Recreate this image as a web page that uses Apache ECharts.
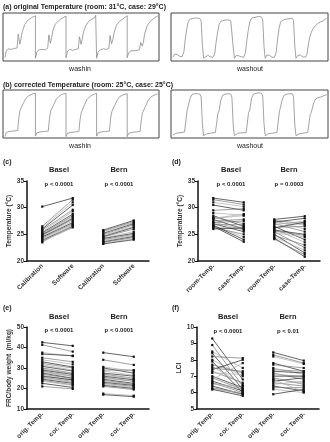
<!DOCTYPE html>
<html>
<head>
<meta charset="utf-8">
<script src="https://cdn.jsdelivr.net/npm/echarts@6/dist/echarts.min.js"></script>
<style>
  html, body { margin: 0; padding: 0; background: #fff; }
  #chart { width: 330px; height: 442px; }
</style>
</head>
<body>
<div id="chart"></div>
<script>
// ---- (a)/(b) traces: one value list per cycle, read at fixed phase positions ----
const washinPhasesA = [0, 0.05, 0.12, 0.22, 0.32, 0.4, 0.44, 0.49, 0.53, 0.57, 0.65, 0.75, 0.85, 0.93, 0.97, 1.0]
const washinOrig = [
  [7, 22, 26, 25, 27, 28, 58, 36, 48, 63, 78, 87, 92, 95, 99, 97],
  [6, 20, 24, 25, 24, 27, 56, 38, 50, 65, 79, 86, 91, 94, 97, 96],
  [7, 21, 25, 23, 25, 26, 52, 36, 47, 62, 76, 86, 90, 93, 98, 97],
  [6, 19, 24, 26, 25, 27, 55, 37, 46, 60, 77, 85, 90, 94, 96, 97],
  [7, 18, 22, 22, 23, 24, 40, 32, 40, 58, 75, 85, 90, 94, 96, 97]
]
const washoutPhasesA = [0, 0.06, 0.14, 0.22, 0.3, 0.36, 0.4, 0.45, 0.5, 0.56, 0.62, 0.7, 0.8, 0.88, 0.92, 0.96, 1.0]
const washoutOrig = [
  [8, 15, 14, 10, 9, 20, 45, 68, 84, 90, 91, 92, 92, 91, 86, 35, 6],
  [6, 10, 12, 9, 8, 15, 38, 60, 78, 85, 87, 88, 88, 87, 83, 30, 6],
  [7, 12, 11, 9, 8, 18, 42, 66, 84, 92, 95, 94, 96, 94, 88, 32, 6],
  [7, 13, 12, 8, 8, 20, 45, 70, 84, 88, 89, 90, 91, 92, 87, 34, 6],
  [7, 12, 13, 9, 8, 15, 35, 52, 62, 70, 75, 80, 84, 86, 88, 90, 92]
]
const washinPhasesB = [0, 0.05, 0.15, 0.3, 0.42, 0.46, 0.5, 0.55, 0.6, 0.68, 0.76, 0.85, 0.93, 1.0]
const washinCorr = [
  [3, 12, 14, 15, 16, 45, 60, 62, 74, 84, 90, 93, 95, 96],
  [4, 11, 13, 14, 15, 42, 58, 60, 72, 83, 89, 93, 95, 96],
  [3, 10, 12, 13, 14, 40, 55, 58, 70, 82, 88, 92, 94, 96],
  [4, 11, 13, 14, 15, 43, 57, 60, 71, 82, 89, 92, 94, 95],
  [3, 10, 12, 13, 14, 38, 54, 57, 68, 80, 87, 91, 93, 95]
]
const washoutPhasesB = [0, 0.1, 0.2, 0.3, 0.38, 0.42, 0.46, 0.5, 0.56, 0.62, 0.7, 0.8, 0.88, 0.92, 0.96, 1.0]
const washoutCorr = [
  [6, 10, 11, 12, 13, 35, 58, 62, 85, 93, 95, 95, 94, 88, 30, 5],
  [5, 9, 10, 11, 12, 30, 52, 58, 82, 92, 94, 95, 94, 87, 28, 5],
  [6, 10, 11, 11, 12, 32, 55, 60, 86, 94, 96, 97, 96, 90, 32, 5],
  [5, 9, 10, 11, 12, 33, 56, 60, 84, 92, 94, 95, 95, 89, 30, 5],
  [6, 9, 10, 11, 12, 30, 50, 55, 72, 82, 86, 88, 90, 91, 92, 93]
]

// ---- (c) calibration vs software ----
const catsC = ['Calibration', 'Software', 'Calibration', 'Software']
const baselCal = [30.2, 26.5, 26.2, 26.0, 25.8, 25.5, 25.3, 25.1, 25.0, 24.9, 24.8, 24.6, 24.5, 24.3, 24.1, 23.9, 23.7, 23.5]
const baselSoft = [31.8, 31.5, 31.0, 30.5, 29.6, 29.3, 28.8, 28.5, 28.3, 28.0, 27.8, 27.5, 27.2, 27.0, 26.8, 26.5, 26.3, 26.7]
const bernCal = [25.8, 25.6, 25.5, 25.2, 25.0, 24.8, 24.6, 24.5, 24.3, 24.2, 24.0, 23.8, 23.6, 23.5, 23.3, 23.2]
const bernSoft = [27.6, 27.4, 27.2, 27.0, 26.8, 26.5, 26.3, 26.0, 25.5, 25.2, 25.0, 24.8, 24.6, 24.4, 24.2, 24.0]

// ---- (d) room vs case temperature ----
const catsD = ['room-Temp.', 'case-Temp.', 'room-Temp.', 'case-Temp.']
const baselRoom = [31.8, 31.5, 31.0, 30.5, 29.5, 29.0, 28.5, 28.2, 28.0, 27.8, 27.5, 27.3, 27.0, 26.8, 26.6, 26.5, 26.3, 26.2, 26.0, 27.2, 28.0, 26.7]
const baselCase = [31.0, 30.6, 30.2, 29.5, 29.8, 28.6, 26.5, 27.0, 28.5, 26.0, 27.8, 25.8, 25.5, 26.8, 24.5, 23.6, 25.0, 26.4, 26.2, 27.5, 28.8, 24.0]
const bernRoom = [27.8, 27.6, 27.5, 27.3, 27.0, 26.8, 26.5, 26.3, 26.0, 25.8, 25.5, 25.3, 25.0, 24.8, 24.5, 24.3, 24.1, 27.2, 26.2, 25.6]
const bernCase = [28.4, 27.0, 26.0, 28.0, 25.5, 27.5, 24.0, 26.5, 23.5, 25.0, 22.5, 24.5, 21.5, 23.0, 22.0, 20.8, 21.2, 26.8, 27.3, 24.8]

// ---- (e) FRC/body weight ----
const catsE = ['orig. Temp.', 'cor. Temp.', 'orig. Temp.', 'cor. Temp.']
const baselFrcOrig = [42.5, 41.3, 37.5, 36.8, 35.0, 34.0, 33.0, 32.2, 31.5, 30.8, 30.0, 29.5, 29.0, 28.5, 28.0, 27.5, 27.0, 26.5, 26.0, 25.5, 25.0, 24.5, 24.0, 23.5, 22.5, 21.0]
const baselFrcCor = [40.8, 38.0, 35.8, 36.0, 33.0, 31.8, 30.5, 30.0, 29.0, 28.5, 27.5, 27.2, 26.8, 26.0, 25.8, 25.0, 24.8, 24.0, 24.2, 23.5, 23.0, 22.5, 21.8, 21.5, 20.5, 19.8]
const bernFrcOrig = [37.5, 34.0, 30.5, 30.0, 29.0, 28.5, 27.5, 27.0, 26.5, 26.0, 25.5, 25.0, 24.5, 24.0, 23.5, 23.0, 22.5, 22.0, 21.5, 21.0, 17.5, 17.0]
const bernFrcCor = [35.5, 31.5, 28.5, 27.5, 29.0, 26.5, 26.0, 25.0, 24.8, 24.2, 23.5, 23.5, 22.5, 22.0, 22.0, 21.5, 21.0, 20.5, 20.0, 19.5, 16.5, 16.0]

// ---- (f) LCI ----
const baselLciOrig = [9.3, 8.9, 8.5, 8.4, 8.2, 8.0, 7.9, 7.7, 7.6, 7.4, 7.3, 7.2, 7.0, 6.9, 6.8, 6.7, 6.6, 6.5, 6.4, 6.3, 6.2, 6.2, 7.5, 6.6]
const baselLciCor = [6.8, 6.4, 7.5, 6.2, 8.1, 7.0, 6.0, 7.2, 6.5, 8.0, 6.6, 7.1, 6.3, 6.2, 7.8, 6.1, 6.0, 6.4, 5.9, 5.9, 6.0, 5.8, 7.3, 6.2]
const bernLciOrig = [8.45, 8.3, 8.2, 7.8, 7.7, 7.5, 7.3, 7.2, 7.1, 7.0, 6.9, 6.8, 6.7, 6.6, 6.5, 6.4, 6.3, 6.2, 5.9, 7.4, 6.8]
const bernLciCor = [7.95, 7.8, 7.75, 7.3, 7.5, 7.1, 7.2, 6.8, 7.0, 7.0, 6.5, 6.6, 6.9, 6.4, 6.7, 6.1, 6.3, 6.0, 6.2, 7.3, 6.05]

const FONT = 'Liberation Sans, Arial, sans-serif'
const chart = echarts.init(document.getElementById('chart'))

const grids = []
const xAxes = []
const yAxes = []
const series = []

// trace box: cycle k spans x = k .. k+1
function traceData (phases, cycles) {
  const out = []
  cycles.forEach((vals, k) => {
    vals.forEach((v, i) => out.push([k + phases[i], v]))
  })
  return out
}

function addTraceBox (box, phases, cycles) {
  const gi = grids.length
  grids.push({ left: box[0], top: box[1], width: box[2], height: box[3], show: true, borderColor: '#444', borderWidth: 1, backgroundColor: 'transparent' })
  xAxes.push({ gridIndex: gi, type: 'value', min: -0.06, max: 5.04, show: false })
  yAxes.push({ gridIndex: gi, type: 'value', min: 0, max: 103, show: false })
  series.push({
    type: 'line', xAxisIndex: gi, yAxisIndex: gi, data: traceData(phases, cycles),
    symbol: 'none', lineStyle: { color: '#8c8c8c', width: 0.8 }, silent: true
  })
}

const shades = ['#222', '#777', '#aaa']

function addPairPanel (box, cats, yCfg, groups) {
  const gi = grids.length
  grids.push({ left: box[0], top: box[1], width: box[2], height: box[3] })
  xAxes.push({
    gridIndex: gi, type: 'category', data: cats, boundaryGap: true,
    axisLine: { lineStyle: { color: '#111', width: 1.5 } },
    axisTick: { alignWithLabel: true, length: 3, lineStyle: { color: '#111' } },
    axisLabel: { rotate: 45, fontSize: 6.5, fontWeight: 'bold', color: '#333', margin: 4, fontFamily: FONT, interval: 0 }
  })
  yAxes.push({
    gridIndex: gi, type: 'value', min: yCfg.min, max: yCfg.max, interval: yCfg.interval,
    name: yCfg.name, nameLocation: 'middle', nameRotate: 90, nameGap: yCfg.gap,
    nameTextStyle: { fontSize: 6.5, fontWeight: 'bold', color: '#333', fontFamily: FONT },
    axisLine: { show: true, lineStyle: { color: '#111', width: 1.5 } },
    axisTick: { show: true, length: 3, lineStyle: { color: '#111' } },
    axisLabel: { fontSize: 6.5, fontWeight: 'bold', color: '#333', margin: 3, fontFamily: FONT },
    splitLine: { show: false }
  })
  groups.forEach((g, gIdx) => {
    g[0].forEach((a, i) => {
      const b = g[1][i]
      const data = gIdx === 0 ? [a, b, '-', '-'] : ['-', '-', a, b]
      series.push({
        type: 'line', xAxisIndex: gi, yAxisIndex: gi, data: data,
        symbol: 'rect', symbolSize: 2.2, showSymbol: true,
        itemStyle: { color: '#111' },
        lineStyle: { color: shades[i % 3], width: 0.7 },
        silent: true
      })
    })
  })
}

addTraceBox([3, 13, 156, 48], washinPhasesA, washinOrig)
addTraceBox([171, 13, 157, 48], washoutPhasesA, washoutOrig)
addTraceBox([3, 90, 156, 48], washinPhasesB, washinCorr)
addTraceBox([171, 90, 157, 48], washoutPhasesB, washoutCorr)

addPairPanel([27, 181, 122, 80], catsC, { min: 20, max: 35, interval: 5, name: 'Temperature (°C)', gap: 14 },
  [[baselCal, baselSoft], [bernCal, bernSoft]])
addPairPanel([198, 181, 122, 80], catsD, { min: 20, max: 35, interval: 5, name: 'Temperature (°C)', gap: 14 },
  [[baselRoom, baselCase], [bernRoom, bernCase]])
addPairPanel([27, 327, 122, 83], catsE, { min: 10, max: 50, interval: 10, name: 'FRC/body weight  (ml/kg)', gap: 14 },
  [[baselFrcOrig, baselFrcCor], [bernFrcOrig, bernFrcCor]])
addPairPanel([197, 327, 122, 82], catsE, { min: 5, max: 10, interval: 1, name: 'LCI', gap: 14 },
  [[baselLciOrig, baselLciCor], [bernLciOrig, bernLciCor]])

function txt (x, y, text, size, bold, align) {
  return {
    type: 'text', x: x, y: y, silent: true,
    style: {
      text: text, fill: '#222', align: align || 'center', verticalAlign: 'middle',
      font: (bold ? 'bold ' : '') + size + 'px ' + FONT
    }
  }
}

const graphics = [
  txt(3, 7, '(a) original Temperature (room: 31°C, case: 29°C)', 7, true, 'left'),
  txt(80, 69, 'washin', 7, false),
  txt(250, 69, 'washout', 7, false),
  txt(3, 85, '(b) corrected Temperature (room: 25°C, case: 25°C)', 7, true, 'left'),
  txt(80, 146, 'washin', 7, false),
  txt(250, 146, 'washout', 7, false),

  txt(3, 162, '(c)', 7, true, 'left'),
  txt(59, 170, 'Basel', 7.5, true),
  txt(119, 170, 'Bern', 7.5, true),
  txt(59, 184, 'p < 0.0001', 6, true),
  txt(119, 184, 'p < 0.0001', 6, true),

  txt(172, 162, '(d)', 7, true, 'left'),
  txt(231, 170, 'Basel', 7.5, true),
  txt(289, 170, 'Bern', 7.5, true),
  txt(231, 184, 'p < 0.0001', 6, true),
  txt(289, 184, 'p = 0.0003', 6, true),

  txt(3, 308, '(e)', 7, true, 'left'),
  txt(59, 317, 'Basel', 7.5, true),
  txt(119, 317, 'Bern', 7.5, true),
  txt(59, 330, 'p < 0.0001', 6, true),
  txt(119, 330, 'p < 0.0001', 6, true),

  txt(172, 308, '(f)', 7, true, 'left'),
  txt(228, 317, 'Basel', 7.5, true),
  txt(288, 317, 'Bern', 7.5, true),
  txt(228, 331, 'p < 0.0001', 6, true),
  txt(288, 331, 'p < 0.01', 6, true)
]

chart.setOption({
  animation: false,
  backgroundColor: '#fff',
  grid: grids,
  xAxis: xAxes,
  yAxis: yAxes,
  series: series,
  graphic: graphics
})
</script>
</body>
</html>
